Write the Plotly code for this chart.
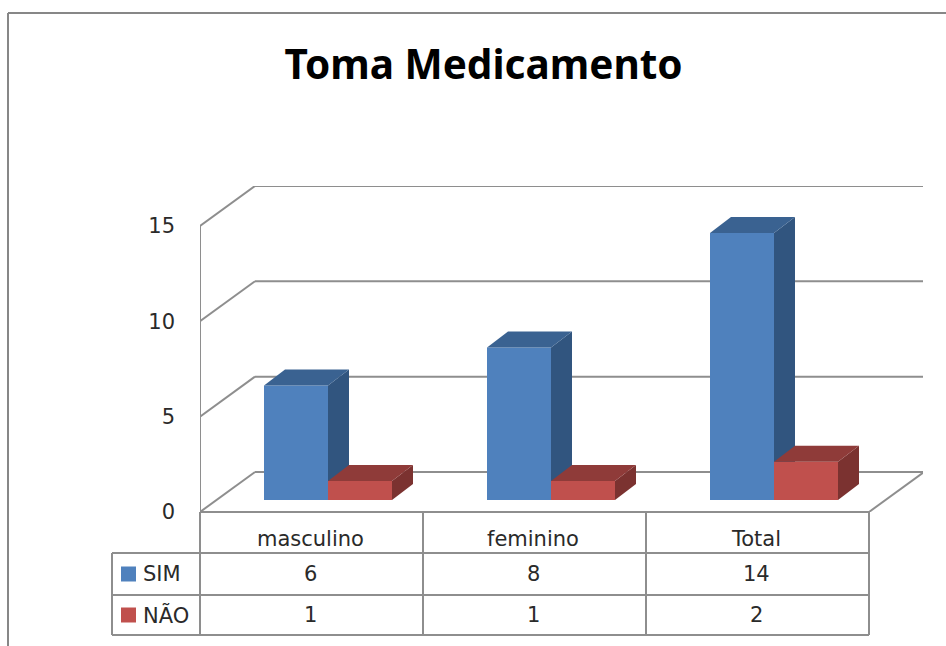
import plotly.graph_objects as go

# ---- data ----
title_text = "Toma Medicamento"
categories = ["masculino", "feminino", "Total"]
series_names = ["SIM", "NÃO"]
sim_values = [6, 8, 14]
nao_values = [1, 1, 2]
y_ticks = [0, 5, 10, 15]

# ---- colours ----
FRONT = {"SIM": "#4F81BD", "NÃO": "#C0504D"}
SIDE = {"SIM": "#31557F", "NÃO": "#7B3230"}
TOP = {"SIM": "#3A6291", "NÃO": "#8F3B39"}
GRID = "#8E8E8E"
FRAME = "#878787"
TEXT = "#2A2A2A"
FONT = "DejaVu Sans"
FS = 21

# ---- geometry (pixels in the 946x646 page) ----
W, H = 946, 646
PX_L, PX_R, PX_T, PX_B = 200, 923, 186, 512
PX_PER_CAT = 223.0
PX_PER_UNIT = 19.07
DX = 55 / PX_PER_CAT            # wall depth, data units
DY = 40 / PX_PER_UNIT
BASE = 12 / PX_PER_UNIT         # bars stand slightly inside the floor
BAR_W = 64 / PX_PER_CAT
BAR_OFF = 64 / PX_PER_CAT
BDX = 21 / PX_PER_CAT           # bar depth
BDY = 16 / PX_PER_UNIT
LABEL_SHIFT = -1.5 / PX_PER_CAT
x_max = (PX_R - PX_L) / PX_PER_CAT
y_max = (PX_B - PX_T) / PX_PER_UNIT
n = len(categories)


def fx(px):
    return px / W


def fy(py):
    return 1 - py / H


fig = go.Figure()


def add_series(name, values, xa, ya, shift):
    xs = [i + BAR_OFF + shift for i in range(n)]
    fig.add_trace(go.Bar(
        x=xs, y=values, base=[BASE] * n, width=BAR_W, offset=0, name=name,
        marker=dict(color=FRONT[name], line=dict(width=0)),
        xaxis=xa, yaxis=ya, showlegend=False))
    for x0, v in zip(xs, values):
        x1 = x0 + BAR_W
        t = BASE + v
        fig.add_trace(go.Scatter(
            x=[x1, x1 + BDX, x1 + BDX, x1, x1],
            y=[BASE, BASE + BDY, t + BDY, t, BASE],
            mode="lines", fill="toself", fillcolor=SIDE[name],
            line=dict(width=0), hoverinfo="skip", xaxis=xa, yaxis=ya, showlegend=False))
        fig.add_trace(go.Scatter(
            x=[x0, x1, x1 + BDX, x0 + BDX, x0],
            y=[t, t, t + BDY, t + BDY, t],
            mode="lines", fill="toself", fillcolor=TOP[name],
            line=dict(width=0), hoverinfo="skip", xaxis=xa, yaxis=ya, showlegend=False))


add_series("SIM", sim_values, "x", "y", 0)
add_series("NÃO", nao_values, "x2", "y2", BAR_W)

shapes = []


def line(x0, y0, x1, y1, xref="x", yref="y", color=GRID, width=2, layer="below"):
    shapes.append(dict(type="line", x0=x0, y0=y0, x1=x1, y1=y1, xref=xref, yref=yref,
                       line=dict(color=color, width=width), layer=layer))


# walls and gridlines
for v in y_ticks:
    line(0, v, DX, v + DY)
    line(DX, v + DY, n + DX, v + DY)
line(0, 0, 0, y_ticks[-1])
line(n, 0, n + DX, DY)

# outer frame
line(fx(8), fy(646), fx(8), fy(13), "paper", "paper", FRAME)
line(fx(8), fy(13), fx(946), fy(13), "paper", "paper", FRAME)

# data table
rows_px = [512, 553, 595, 635]
TBL_L = 112
for i, ry in enumerate(rows_px):
    left = fx(PX_L) if i == 0 else fx(TBL_L)
    right = fx(PX_L + n * PX_PER_CAT)
    line(left, fy(ry), right, fy(ry), "paper", "paper")
line(fx(TBL_L), fy(rows_px[1]), fx(TBL_L), fy(rows_px[3]), "paper", "paper")
for i in range(n + 1):
    px = PX_L + i * PX_PER_CAT
    line(fx(px), fy(rows_px[0]), fx(px), fy(rows_px[3]), "paper", "paper")

annotations = []


def label(x, py, text, xref="x", xanchor="center"):
    annotations.append(dict(x=x, y=fy(py), xref=xref, yref="paper", text=text, showarrow=False,
                            xanchor=xanchor, yanchor="middle",
                            font=dict(family=FONT, size=FS, color=TEXT)))


rows_center = [(rows_px[k] + rows_px[k + 1]) / 2 + 6 * (k == 0) for k in range(3)]
for i, c in enumerate(categories):
    label(i + 0.5 + LABEL_SHIFT, rows_center[0], c)
    label(i + 0.5 + LABEL_SHIFT, rows_center[1], str(sim_values[i]))
    label(i + 0.5 + LABEL_SHIFT, rows_center[2], str(nao_values[i]))

for k, name in enumerate(series_names):
    cy = rows_center[k + 1]
    shapes.append(dict(type="rect", xref="paper", yref="paper", x0=fx(121), x1=fx(136),
                       y0=fy(cy - 7.5), y1=fy(cy + 7.5), fillcolor=FRONT[name],
                       line=dict(width=0), layer="above"))
    label(fx(141), cy, name, xref="paper", xanchor="left")

axis_hidden = dict(range=[0, x_max], visible=False, fixedrange=True, automargin=False)

fig.update_layout(
    width=W, height=H, autosize=False,
    margin=dict(l=0, r=0, t=0, b=0, pad=0),
    paper_bgcolor="white", plot_bgcolor="white",
    barmode="overlay",
    showlegend=False,
    title=dict(text=title_text, x=483.5 / W, xanchor="center", y=fy(65), yanchor="middle",
               font=dict(family="Noto Sans", size=40.5, color="#000000", weight="bold")),
    xaxis=dict(domain=[fx(PX_L), fx(PX_R)], **axis_hidden),
    xaxis2=dict(domain=[fx(PX_L), fx(PX_R)], overlaying="x", **axis_hidden),
    yaxis=dict(domain=[fy(PX_B), fy(PX_T)], range=[0, y_max], tickvals=y_ticks,
               ticktext=[str(t) for t in y_ticks], showgrid=False, zeroline=False,
               showline=False, ticks="", ticklabelstandoff=24, fixedrange=True, automargin=False,
               tickfont=dict(family=FONT, size=FS, color=TEXT)),
    yaxis2=dict(domain=[fy(PX_B), fy(PX_T)], range=[0, y_max], overlaying="y", visible=False,
                fixedrange=True, automargin=False),
    shapes=shapes,
    annotations=annotations,
)

fig.write_html("out.html", config={"displayModeBar": False, "responsive": False},
               post_script="document.body.style.margin='0';document.documentElement.style.overflow='hidden';")
